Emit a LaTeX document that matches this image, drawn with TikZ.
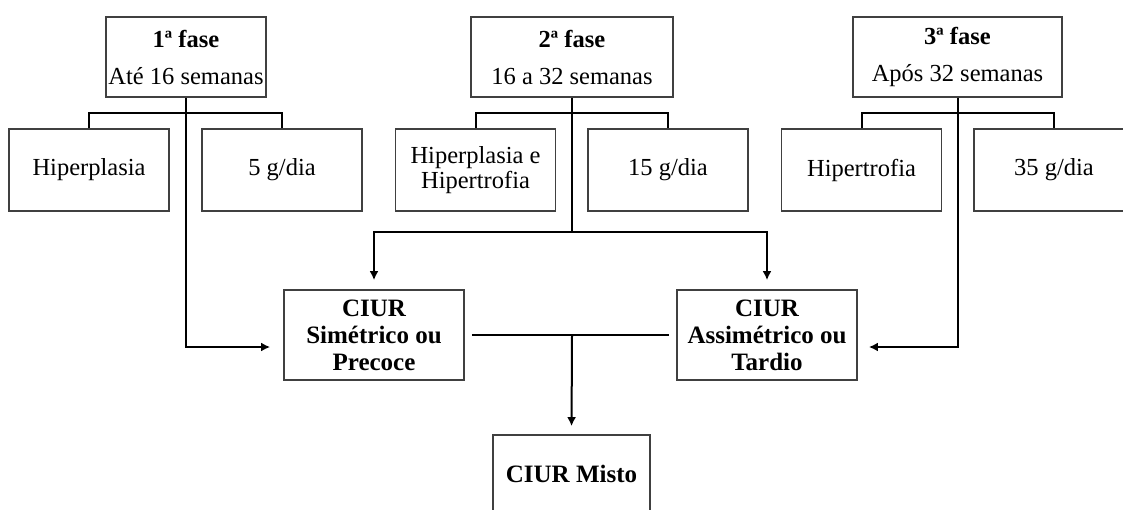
\documentclass[tikz,border=0pt]{standalone}
\usepackage{fontspec}
\setmainfont{Liberation Serif}
\usetikzlibrary{arrows.meta,calc}

\begin{document}
\begin{tikzpicture}[x=1pt,y=-1pt,
  box/.style={draw=black!75, line width=1.8pt, inner sep=0pt, align=center,
              font=\fontsize{24.5}{28}\selectfont},
  phase/.style={box, minimum height=80pt},
  sub/.style={box, minimum width=160pt, minimum height=82pt},
  ciur/.style={box, minimum width=180pt, minimum height=90pt,
               font=\fontsize{25}{27}\selectfont\bfseries},
  link/.style={draw=black, line width=2pt},
  arrow/.style={link, -{Latex[length=9pt,width=9pt]}}]

\useasboundingbox (0,0) rectangle (1123,509);
\clip (0,0) rectangle (1123,509);

% phases
\node[phase, minimum width=160pt] (f1) at (186,57)
  {\textbf{1ª fase}\\[9pt]Até 16 semanas};
\node[phase, minimum width=202pt] (f2) at (572,57)
  {\textbf{2ª fase}\\[9pt]16 a 32 semanas};
\node[phase, minimum width=209pt] (f3) at (957.5,57)
  {\textbf{3ª fase}\\[9pt]Após 32 semanas};

% characteristics of each phase
\node[sub] (h1) at (89,170) {Hiperplasia};
\node[sub] (g1) at (282,170) {5 g/dia};
\node[sub, font=\fontsize{24.5}{24.5}\selectfont] (h2) at (475.5,170) {Hiperplasia e\\Hipertrofia};
\node[sub] (g2) at (668,170) {15 g/dia};
\node[sub] (h3) at (861.5,170) {Hipertrofia};
\node[sub] (g3) at (1054,170) {35 g/dia};

% growth restriction types
\node[ciur] (sim) at (374,335) {CIUR\\Simétrico ou\\Precoce};
\node[ciur] (asym) at (767,335) {CIUR\\Assimétrico ou\\Tardio};
\node[box, minimum width=157pt, minimum height=78pt, font=\fontsize{25}{28}\selectfont\bfseries]
  (misto) at (571.5,474) {CIUR Misto};

% junction points
\coordinate (j1) at (186,113);
\coordinate (j2) at (572,113);
\coordinate (j3) at (958,113);
\coordinate (k2) at (572,232);
\coordinate (m) at (572,335);

% branches to the characteristics
\draw[link] (h1.north) |- (j1) -| (g1.north);
\draw[link] (h2.north) |- (j2) -| (g2.north);
\draw[link] (h3.north) |- (j3) -| (g3.north);

% phase 1 -> symmetric
\draw[arrow, shorten >=13pt] (f1.south) |- ($(sim.west)+(0,12)$);
% phase 2 -> both
\draw[link] (f2.south) -- (k2);
\draw[arrow, shorten >=9pt] (k2) -| (sim.north);
\draw[arrow, shorten >=9pt] (k2) -| (asym.north);
% phase 3 -> asymmetric
\draw[arrow, shorten >=11pt] (f3.south) |- ($(asym.east)+(0,12)$);

% symmetric + asymmetric -> mixed
\draw[link, shorten <=7pt, shorten >=7pt] (sim.east) -- (asym.west);
\draw[arrow, shorten >=8pt] (m) -- (misto.north);
\end{tikzpicture}
\end{document}
